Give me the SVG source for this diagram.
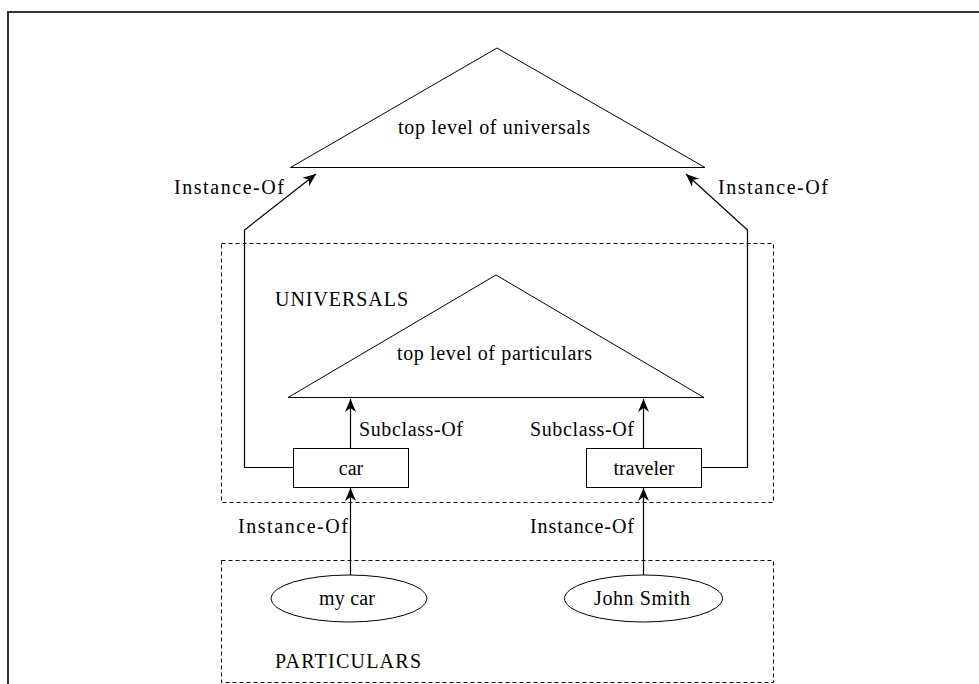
<svg xmlns="http://www.w3.org/2000/svg" width="979" height="684" viewBox="0 0 979 684">
  <style>
    text { font-family: "Liberation Serif", "Times New Roman", serif; font-size: 20px; fill: #000; }
    .shape { fill: none; stroke: #000; stroke-width: 1; }
    .box { fill: #fff; stroke: #000; stroke-width: 1; }
    .group { fill: none; stroke: #000; stroke-width: 1; stroke-dasharray: 4 3; }
    .link { fill: none; stroke: #000; stroke-width: 1.2; }
    .frame { fill: none; stroke: #333; stroke-width: 2; }
  </style>
  <defs>
    <marker id="arrow" viewBox="-14 -7 16 14" markerWidth="16" markerHeight="14" refX="0" refY="0" orient="auto" markerUnits="userSpaceOnUse">
      <path d="M0,0 L-13,-5.5 L-9,0 L-13,5.5 Z" fill="#000"/>
    </marker>
  </defs>

  <rect width="979" height="684" fill="#fff"/>
  <!-- page frame -->
  <path class="frame" d="M8,684 V12 H979"/>

  <!-- grouping regions -->
  <g id="universals">
    <rect class="group" x="221.5" y="243.5" width="552" height="259"/>
    <text x="275" y="306" textLength="133" lengthAdjust="spacing">UNIVERSALS</text>
  </g>
  <g id="particulars">
    <rect class="group" x="221.5" y="560.5" width="552" height="122"/>
    <text x="275" y="668" textLength="146" lengthAdjust="spacing">PARTICULARS</text>
  </g>

  <!-- connectors -->
  <g id="connectors">
    <path class="link" d="M293,467.5 H244.5 V230 L316,174" marker-end="url(#arrow)"/>
    <path class="link" d="M701,467.5 H747.5 V230 L686,174" marker-end="url(#arrow)"/>
    <path class="link" d="M350.5,448 V399" marker-end="url(#arrow)"/>
    <path class="link" d="M643.5,448 V399" marker-end="url(#arrow)"/>
    <path class="link" d="M350.5,575 V488" marker-end="url(#arrow)"/>
    <path class="link" d="M643.5,575 V488" marker-end="url(#arrow)"/>
    <text x="174" y="194" textLength="110" lengthAdjust="spacing">Instance-Of</text>
    <text x="718" y="194" textLength="110" lengthAdjust="spacing">Instance-Of</text>
    <text x="359" y="436" textLength="104" lengthAdjust="spacing">Subclass-Of</text>
    <text x="530" y="436" textLength="104" lengthAdjust="spacing">Subclass-Of</text>
    <text x="238" y="533" textLength="110" lengthAdjust="spacing">Instance-Of</text>
    <text x="530" y="533" textLength="104" lengthAdjust="spacing">Instance-Of</text>
  </g>

  <!-- nodes -->
  <g id="top-universals">
    <polygon class="shape" points="497,48 290.5,167.5 705,167.5"/>
    <text x="398" y="134" textLength="192" lengthAdjust="spacing">top level of universals</text>
  </g>
  <g id="top-particulars">
    <polygon class="shape" points="496,275 288,397.5 704,397.5"/>
    <text x="397" y="360" textLength="195" lengthAdjust="spacing">top level of particulars</text>
  </g>
  <g id="car">
    <rect class="box" x="293.5" y="448.5" width="115" height="39"/>
    <text x="351" y="475" text-anchor="middle">car</text>
  </g>
  <g id="traveler">
    <rect class="box" x="586.5" y="448.5" width="115" height="39"/>
    <text x="644" y="475" text-anchor="middle">traveler</text>
  </g>
  <g id="my-car">
    <ellipse class="box" cx="349" cy="598.5" rx="78" ry="23.5"/>
    <text x="319" y="605" textLength="56" lengthAdjust="spacing">my car</text>
  </g>
  <g id="john-smith">
    <ellipse class="box" cx="643.5" cy="598.5" rx="79" ry="23.5"/>
    <text x="594" y="605" textLength="96" lengthAdjust="spacing">John Smith</text>
  </g>
</svg>
